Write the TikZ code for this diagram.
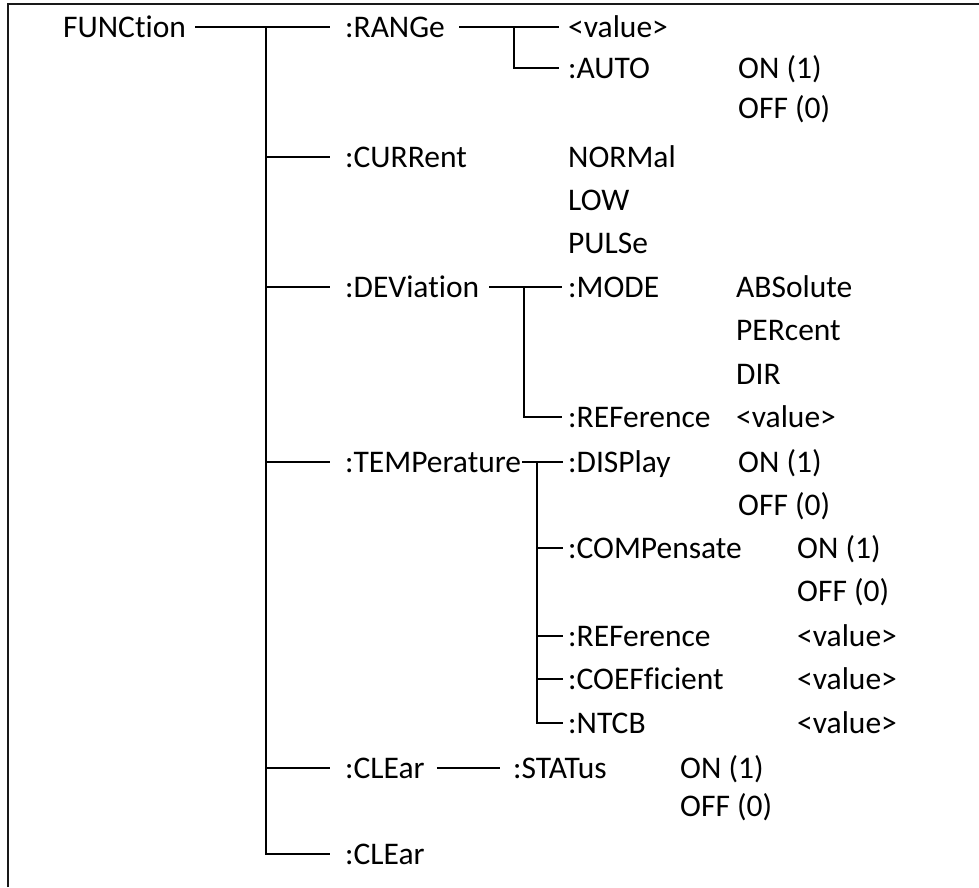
\documentclass[tikz,border=0pt]{standalone}
\usepackage{fontspec}
\setmainfont{Carlito}[Ligatures={NoCommon}]
\begin{document}
\begin{tikzpicture}[x=1pt,y=-1pt,
  lbl/.style={anchor=west,inner sep=0pt,font=\fontsize{31.5}{38}\selectfont,text height=20.3pt,text depth=0pt},
  tree/.style={line width=1.3pt,black},
  frame/.style={line width=2pt,black!90}]
\useasboundingbox (0,0) rectangle (979,887);
\draw[frame] (8,887) -- (8,4) -- (979,4);

% level 0 and 1
\node[lbl] (fn) at (63,27) {FUNCtion};
\node[lbl] (ra) at (345,27) {:RANGe};
\node[lbl] (cu) at (345,157) {:CURRent};
\node[lbl] (de) at (345,287) {:DEViation};
\node[lbl] (te) at (345,462) {:TEMPerature};
\node[lbl] (cl) at (345,768) {:CLEar};
\node[lbl] (cl2) at (345,854) {:CLEar};

% RANGe subtree
\node[lbl] (rv) at (568,27) {<value>};
\node[lbl] (au) at (568,68) {:AUTO};
\node[lbl] (au1) at (738,68) {ON (1)};
\node[lbl] (au0) at (738,108) {OFF (0)};

% CURRent
\node[lbl] (cun) at (568,157) {NORMal};
\node[lbl] (cul) at (568,200) {LOW};
\node[lbl] (cup) at (568,243) {PULSe};

% DEViation subtree
\node[lbl] (mo) at (568,287) {:MODE};
\node[lbl] (moa) at (736,287) {ABSolute};
\node[lbl] (mop) at (736,330) {PERcent};
\node[lbl] (mod) at (736,374) {DIR};
\node[lbl] (dr) at (568,417) {:REFerence};
\node[lbl] (drv) at (736,417) {<value>};

% TEMPerature subtree
\node[lbl] (di) at (568,462) {:DISPlay};
\node[lbl] (di1) at (738,462) {ON (1)};
\node[lbl] (di0) at (738,505) {OFF (0)};
\node[lbl] (co) at (568,548) {:COMPensate};
\node[lbl] (co1) at (797,548) {ON (1)};
\node[lbl] (co0) at (797,591) {OFF (0)};
\node[lbl] (tr) at (568,636) {:REFerence};
\node[lbl] (trv) at (797,636) {<value>};
\node[lbl] (cf) at (568,679) {:COEFficient};
\node[lbl] (cfv) at (797,679) {<value>};
\node[lbl] (nt) at (568,723) {:NTCB};
\node[lbl] (ntv) at (797,723) {<value>};

% CLEar subtree
\node[lbl] (st) at (513,768) {:STATus};
\node[lbl] (st1) at (680,768) {ON (1)};
\node[lbl] (st0) at (680,806) {OFF (0)};

% junction coordinates
\coordinate (t0) at (266,27);
\coordinate (r0) at (514,27);
\coordinate (d0) at (524,287);
\coordinate (m0) at (537,462);

% trunk
\draw[tree] ([xshift=9pt]fn.east) -- ([xshift=-15pt]ra.west);
\draw[tree] (t0) |- ([xshift=-15pt]cl2.west);
\draw[tree] (t0 |- cu) -- ([xshift=-15pt]cu.west);
\draw[tree] (t0 |- de) -- ([xshift=-15pt]de.west);
\draw[tree] (t0 |- te) -- ([xshift=-15pt]te.west);
\draw[tree] (t0 |- cl) -- ([xshift=-15pt]cl.west);

% RANGe branch
\draw[tree] ([xshift=14pt]ra.east) -- ([xshift=-9pt]rv.west);
\draw[tree] (r0) |- ([xshift=-9pt]au.west);

% DEViation branch
\draw[tree] ([xshift=10pt]de.east) -- ([xshift=-6pt]mo.west);
\draw[tree] (d0) |- ([xshift=-6pt]dr.west);

% TEMPerature branch
\draw[tree] ([xshift=1pt]te.east) -- ([xshift=-5pt]di.west);
\draw[tree] (m0) |- ([xshift=-5pt]nt.west);
\draw[tree] (m0 |- co) -- ([xshift=-5pt]co.west);
\draw[tree] (m0 |- tr) -- ([xshift=-5pt]tr.west);
\draw[tree] (m0 |- cf) -- ([xshift=-5pt]cf.west);

% CLEar branch
\draw[tree] ([xshift=12pt]cl.east) -- ([xshift=-13pt]st.west);
\end{tikzpicture}
\end{document}
